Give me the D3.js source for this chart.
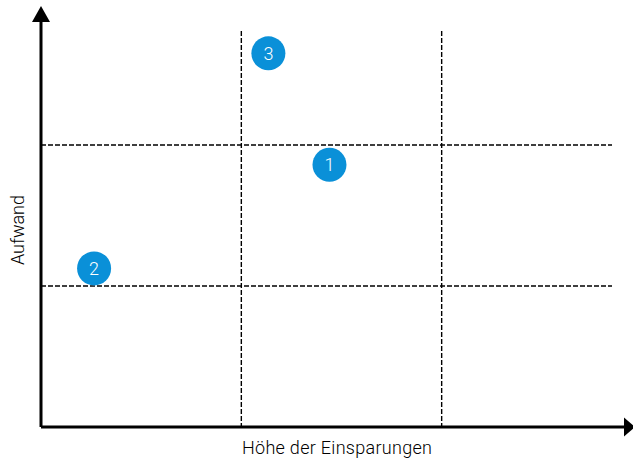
<!DOCTYPE html>
<html>
<head>
<meta charset="utf-8">
<script src="https://cdn.jsdelivr.net/npm/d3@7"></script>
<style>
  body { margin: 0; background: #fff; }
  text { font-family: "Liberation Sans Narrow", "Roboto", "Noto Sans", sans-serif; }
</style>
</head>
<body>
<script>
// Daten: Einsparung (x) und Aufwand (y), in Feldern 0..3
const labels = ["1", "2", "3"]
const savings = [1.44, 0.265, 1.135]
const effort = [1.86, 1.125, 2.65]
const gridX = [1, 2]
const gridY = [1, 2]

const width = 633
const height = 462

const x = d3.scaleLinear().domain([0, 3]).range([41, 642])
const y = d3.scaleLinear().domain([0, 3]).range([427, 4])

const svg = d3.select('body').append('svg')
  .attr('width', width)
  .attr('height', height)

// gestrichelte Raster
svg.selectAll('.gx').data(gridX).enter().append('line')
  .attr('x1', d => x(d)).attr('x2', d => x(d))
  .attr('y1', 31).attr('y2', y(0))
  .attr('stroke', '#000').attr('stroke-width', 1.4)
  .attr('stroke-dasharray', '5,2')

svg.selectAll('.gy').data(gridY).enter().append('line')
  .attr('x1', x(0)).attr('x2', 612)
  .attr('y1', d => y(d)).attr('y2', d => y(d))
  .attr('stroke', '#000').attr('stroke-width', 1.4)
  .attr('stroke-dasharray', '5,2')

// Achsen mit Pfeilen
svg.append('path')
  .attr('d', `M${x(0)},${y(0)} V20 M${x(0)},${y(0)} H626`)
  .attr('fill', 'none').attr('stroke', '#000').attr('stroke-width', 3)

svg.append('path') // Pfeil oben
  .attr('d', `M${x(0)},6 L${x(0) + 9},22 L${x(0) - 9},22 Z`)
  .attr('fill', '#000')

svg.append('path') // Pfeil rechts
  .attr('d', `M635,${y(0)} L624,${y(0) - 9.5} L624,${y(0) + 9.5} Z`)
  .attr('fill', '#000')

// Punkte
const pts = svg.selectAll('.pt').data(labels).enter().append('g')
  .attr('transform', (d, i) => `translate(${x(savings[i])},${y(effort[i])})`)

pts.append('circle')
  .attr('r', 17)
  .attr('fill', '#0a90d8')

pts.append('text')
  .attr('text-anchor', 'middle')
  .attr('dy', '0.36em')
  .attr('fill', '#fff')
  .style('font-size', '18px')
  .style('font-weight', 300)
  .text(d => d)

// Beschriftungen
svg.append('text')
  .attr('x', 337).attr('y', 454)
  .attr('text-anchor', 'middle')
  .attr('textLength', 190)
  .style('font-size', '18px')
  .style('font-weight', 300)
  .text('Höhe der Einsparungen')

svg.append('text')
  .attr('transform', 'translate(24,230) rotate(-90)')
  .attr('text-anchor', 'middle')
  .attr('textLength', 70)
  .style('font-size', '18px')
  .style('font-weight', 300)
  .text('Aufwand')
</script>
</body>
</html>
